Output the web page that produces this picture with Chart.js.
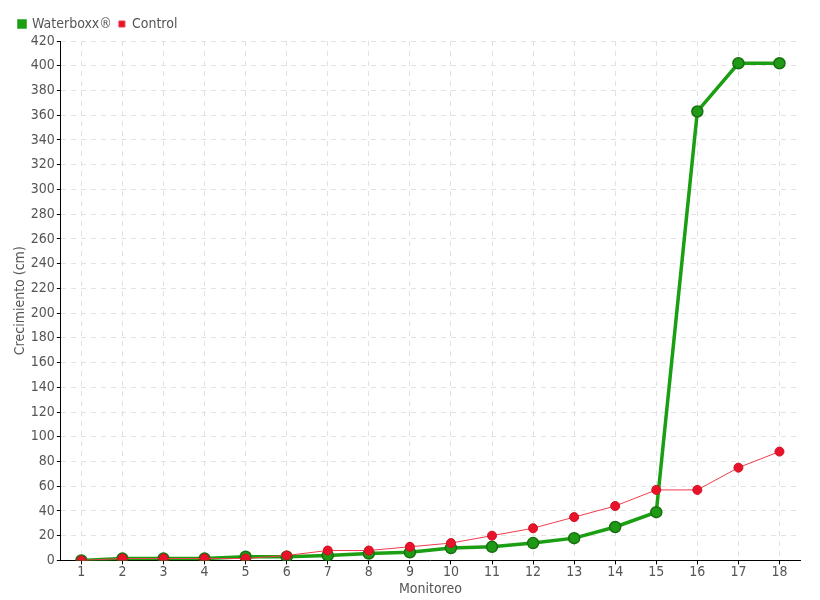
<!DOCTYPE html>
<html><head><meta charset="utf-8">
<script src="https://cdn.jsdelivr.net/npm/chart.js@4/dist/chart.umd.min.js"></script>
<style>html,body{margin:0;padding:0;background:#fff}#c{display:block}</style>
</head><body>
<canvas id="c" width="820" height="600"></canvas>
<script>
const categories = ['1','2','3','4','5','6','7','8','9','10','11','12','13','14','15','16','17','18'];
const waterboxx = [0,1.5,1.5,1.5,3,3,4,5.5,6.5,10,11,14,18,27,39,363,402,402];
const control = [0,1.5,1.5,1.5,1.5,4,8,8,11,14,20,26,35,44,57,57,75,88];
const FONT = '"DejaVu Sans Condensed","Liberation Sans Narrow",sans-serif';
new Chart(document.getElementById('c'), {
  type: 'line',
  data: {
    labels: categories,
    datasets: [
      {label: 'Waterboxx®', data: waterboxx, borderColor: '#1a9e12', backgroundColor: '#1a9e12',
       pointBackgroundColor: '#1f9a16', pointBorderColor: '#17700f', pointBorderWidth: 1.5,
       borderWidth: 3.5, pointRadius: 5.5, tension: 0, order: 2},
      {label: 'Control', data: control, borderColor: '#f03c4c', backgroundColor: '#e8132b',
       pointBackgroundColor: '#e8132b', pointBorderColor: '#d0101f', pointBorderWidth: 1,
       borderWidth: 1, pointRadius: 4.5, tension: 0, order: 1}
    ]
  },
  options: {
    responsive: false, animation: false,
    layout: {padding: {left: 12, right: 20, top: 10, bottom: 2}},
    plugins: {
      legend: {align: 'start', position: 'top',
        labels: {boxWidth: 6, boxHeight: 6, padding: 7, color: '#555', font: {family: FONT, size: 14},
          sort: (a, b) => a.datasetIndex - b.datasetIndex}},
      tooltip: {enabled: false}
    },
    scales: {
      x: {offset: true,
        grid: {offset: false, color: '#e2e2e2', tickColor: '#000', tickLength: 4, drawOnChartArea: true},
        border: {display: true, color: '#000', dash: [5,5]},
        ticks: {color: '#555', padding: 0, font: {family: FONT, size: 14}},
        title: {display: true, text: 'Monitoreo', color: '#555', padding: 0, font: {family: FONT, size: 14}}},
      y: {min: 0, max: 420,
        grid: {color: '#e2e2e2', tickColor: '#000', tickLength: 4},
        border: {display: true, color: '#000', dash: [5,5]},
        ticks: {stepSize: 20, color: '#555', padding: 2, font: {family: FONT, size: 14}},
        title: {display: true, text: 'Crecimiento (cm)', color: '#555', padding: 0, font: {family: FONT, size: 14}}}
    }
  }
});
</script>
</body></html>
